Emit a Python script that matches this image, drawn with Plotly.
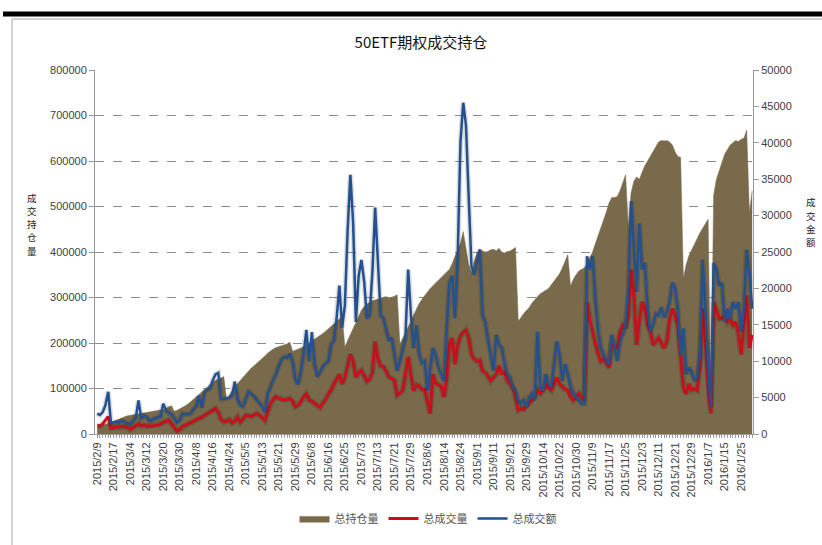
import pandas as pd
import plotly.graph_objects as go

# ---- trading-day categories (SSE calendar, 2015/2/9 - 2016/1/29) ----
holidays = ["2015-02-18", "2015-02-19", "2015-02-20", "2015-02-23", "2015-02-24",
            "2015-04-06", "2015-05-01", "2015-06-22", "2015-09-03", "2015-09-04",
            "2015-10-01", "2015-10-02", "2015-10-05", "2015-10-06", "2015-10-07",
            "2016-01-01"]
days = [d for d in pd.bdate_range("2015-02-09", "2016-01-29") if d.strftime("%Y-%m-%d") not in holidays]
dates = [f"{d.year}/{d.month}/{d.day}" for d in days]

# ---- series ----
open_interest = [
    15000, 17000, 19000, 21000, 23000, 26000, 28000, 30000, 33000, 36000,
    38000, 40000, 41000, 42000, 43000, 44000, 45000, 46000, 47000, 48000,
    49000, 50000, 51000, 52000, 54000, 56000, 60000, 62000, 50000, 52000,
    55000, 58000, 62000, 66000, 71000, 76000, 81000, 86000, 92000, 97000,
    103000, 109000, 114000, 118000, 121000, 124000, 126000, 76000, 86000, 96000,
    104000, 111000, 118000, 125000, 132000, 138000, 145000, 150000, 155000, 160000,
    166000, 172000, 178000, 183000, 187000, 190000, 192000, 194000, 196000, 198000,
    202000, 182000, 184000, 186000, 189000, 192000, 196000, 200000, 204000, 208000,
    212000, 216000, 221000, 226000, 231000, 236000, 241000, 246000, 252000, 258000,
    192000, 205000, 218000, 232000, 246000, 260000, 272000, 280000, 286000, 290000,
    293000, 295000, 297000, 298000, 300000, 302000, 298000, 300000, 303000, 306000,
    198000, 210000, 222000, 235000, 248000, 262000, 275000, 287000, 296000, 305000,
    312000, 320000, 326000, 331000, 336000, 342000, 350000, 356000, 362000, 375000,
    390000, 405000, 420000, 445000, 405000, 372000, 355000, 380000, 398000, 407000,
    402000, 400000, 401000, 405000, 406000, 403000, 408000, 400000, 398000, 401000,
    402000, 406000, 410000, 248000, 258000, 265000, 272000, 278000, 288000, 296000,
    302000, 308000, 312000, 316000, 320000, 328000, 336000, 345000, 352000, 365000,
    378000, 394000, 325000, 340000, 350000, 358000, 362000, 365000, 375000, 388000,
    400000, 418000, 435000, 452000, 468000, 488000, 508000, 520000, 520000, 522000,
    535000, 552000, 570000, 455000, 530000, 555000, 565000, 560000, 575000, 590000,
    600000, 610000, 620000, 632000, 642000, 645000, 644000, 645000, 642000, 635000,
    620000, 610000, 608000, 343000, 372000, 392000, 405000, 418000, 430000, 442000,
    452000, 462000, 472000, 60000, 525000, 560000, 580000, 600000, 615000, 625000,
    635000, 640000, 645000, 643000, 648000, 650000, 668000, 485000, 535000,
]

volume = [
    19000, 18000, 22000, 30000, 38000, 13000, 15000, 16000, 15000, 17000,
    16000, 15000, 10000, 14000, 19000, 22000, 18000, 20000, 17000, 18000,
    17000, 19000, 19000, 22000, 26000, 28000, 30000, 22000, 15000, 6000,
    10000, 17000, 19000, 22000, 24000, 27000, 30000, 33000, 37000, 41000,
    45000, 48000, 52000, 56000, 48000, 32000, 27000, 28000, 32000, 24000,
    28000, 37000, 26000, 33000, 41000, 40000, 38000, 42000, 45000, 41000,
    35000, 30000, 50000, 67000, 76000, 82000, 78000, 77000, 75000, 76000,
    78000, 72000, 60000, 63000, 70000, 82000, 88000, 75000, 72000, 67000,
    62000, 58000, 68000, 76000, 88000, 96000, 110000, 120000, 131000, 110000,
    125000, 150000, 175000, 160000, 125000, 135000, 140000, 128000, 116000, 120000,
    135000, 203000, 165000, 150000, 148000, 138000, 125000, 122000, 118000, 85000,
    90000, 95000, 130000, 170000, 130000, 95000, 108000, 105000, 98000, 98000,
    70000, 45000, 131000, 112000, 108000, 105000, 81000, 120000, 196000, 211000,
    153000, 196000, 215000, 224000, 228000, 211000, 175000, 165000, 160000, 162000,
    139000, 135000, 128000, 117000, 125000, 131000, 150000, 131000, 139000, 117000,
    110000, 103000, 80000, 52000, 56000, 54000, 62000, 67000, 74000, 85000,
    96000, 89000, 95000, 110000, 100000, 96000, 110000, 124000, 110000, 103000,
    98000, 96000, 81000, 74000, 80000, 89000, 80000, 74000, 290000, 250000,
    225000, 200000, 175000, 160000, 166000, 155000, 146000, 203000, 189000, 190000,
    225000, 239000, 232000, 260000, 361000, 304000, 196000, 250000, 290000, 275000,
    240000, 225000, 196000, 203000, 211000, 200000, 189000, 203000, 253000, 275000,
    260000, 240000, 175000, 103000, 88000, 110000, 96000, 100000, 96000, 150000,
    275000, 200000, 100000, 45000, 290000, 270000, 253000, 255000, 260000, 246000,
    253000, 239000, 246000, 220000, 175000, 246000, 304000, 189000, 218000,
]

turnover = [
    2800, 2600, 3000, 4000, 5800, 1500, 1600, 1700, 1600, 1800,
    1600, 1500, 1300, 1800, 2200, 4600, 2200, 2500, 2300, 1800,
    2000, 2200, 2300, 2400, 4150, 3300, 2900, 2700, 2200, 1600,
    1900, 2800, 2700, 2800, 2800, 3400, 3800, 5200, 3600, 5800,
    6100, 6300, 7400, 8200, 8400, 4800, 4800, 4900, 5000, 5300,
    7200, 4800, 4000, 3800, 4800, 5800, 5500, 5200, 4700, 4200,
    3800, 3000, 5600, 6500, 7500, 8200, 9400, 10200, 10600, 10500,
    11000, 10000, 7500, 6800, 8500, 11000, 14300, 10000, 14000, 9500,
    7900, 8500, 9300, 9700, 10000, 12300, 12800, 15900, 20400, 14600,
    17700, 28000, 35600, 29000, 15400, 21700, 23900, 21000, 15900, 16300,
    22200, 31100, 23600, 16300, 15900, 14500, 12800, 13200, 11000, 8700,
    10000, 11800, 13200, 22600, 16300, 11800, 14900, 11000, 9800, 10000,
    5980, 9000, 11800, 10800, 9100, 8200, 7300, 14500, 20800, 21700,
    15900, 24400, 40100, 45500, 42400, 32500, 23000, 21900, 23500, 25300,
    16300, 15400, 13000, 10900, 8700, 13600, 12300, 11800, 9600, 8200,
    7800, 6400, 6000, 4630, 4180, 4630, 3730, 5080, 5530, 4630,
    14060, 6430, 5980, 8220, 6880, 6430, 9500, 12710, 10920, 7320,
    9570, 8220, 6430, 5500, 5080, 4630, 4180, 4180, 24400, 22600,
    24400, 18500, 14060, 11820, 10920, 10000, 9570, 13620, 11820, 10020,
    12710, 13620, 15000, 20000, 32000, 26200, 19500, 28900, 22600, 23500,
    17200, 14060, 15000, 16500, 16310, 17400, 16000, 16760, 18110, 20800,
    20000, 17000, 10920, 14510, 8220, 9120, 8500, 7320, 7770, 10920,
    23950, 17210, 8670, 3730, 23500, 22600, 20350, 20800, 15410, 17210,
    15860, 18110, 17210, 18110, 14060, 17210, 25300, 22150, 17210,
]

tick_every = 6
left_ticks = list(range(0, 800001, 100000))
right_ticks = list(range(0, 50001, 5000))
left_title = "成交持仓量"
right_title = "成交金额"

tick_text = [d if i % tick_every == 0 else "" for i, d in enumerate(dates)]

BROWN = "#7a6a4c"
RED = "#c8101c"
BLUE = "#23508f"

fig = go.Figure()
fig.add_trace(go.Scatter(
    x=dates, y=open_interest, name="总持仓量", mode="lines",
    line=dict(color=BROWN, width=0.5), fill="tozeroy", fillcolor=BROWN,
))
# soft shadows
fig.add_trace(go.Scatter(x=dates, y=volume, mode="lines", showlegend=False, hoverinfo="skip",
                         line=dict(color="rgba(0,0,0,0.13)", width=6)))
fig.add_trace(go.Scatter(
    x=dates, y=volume, name="总成交量", mode="lines",
    line=dict(color=RED, width=3),
))
fig.add_trace(go.Scatter(x=dates, y=turnover, yaxis="y2", mode="lines", showlegend=False,
                         hoverinfo="skip", line=dict(color="rgba(0,0,0,0.13)", width=5.5)))
fig.add_trace(go.Scatter(
    x=dates, y=turnover, name="总成交额", mode="lines", yaxis="y2",
    line=dict(color=BLUE, width=2.5),
))

axis_font = dict(family="Liberation Sans, Arial, sans-serif", size=11, color="#404040")

# plot area: x 95..753 px, y 70..441 px
def px_x(px):
    return (px - 95) / 658.0

def px_y(py):
    return (441 - py) / 371.0

annotations = []
for k, ch in enumerate(left_title):
    annotations.append(dict(text=ch, xref="paper", yref="paper", x=px_x(32), y=px_y(200 + 13.5 * k),
                            xanchor="center", yanchor="middle", showarrow=False, borderpad=0,
                            font=dict(family="Noto Sans CJK SC", size=9.5, color="#222222")))
for k, ch in enumerate(right_title):
    annotations.append(dict(text=ch, xref="paper", yref="paper", x=px_x(811), y=px_y(205 + 13.5 * k),
                            xanchor="center", yanchor="middle", showarrow=False, borderpad=0,
                            font=dict(family="Noto Sans CJK SC", size=9.5, color="#222222")))

fig.update_layout(
    width=822, height=545,
    margin=dict(l=95, r=69, t=70, b=104),
    paper_bgcolor="white", plot_bgcolor="white",
    showlegend=True,
    legend=dict(orientation="h", x=px_x(428), xanchor="center", y=px_y(527), yanchor="middle",
                font=dict(family="Noto Sans CJK SC", size=11, color="#555555"),
                itemwidth=30, traceorder="normal"),
    title=dict(text="50ETF期权成交持仓", x=421 / 822, xanchor="center",
               y=1 - 43 / 545, yanchor="middle",
               font=dict(family="Noto Sans CJK SC", size=15, color="#111111")),
    xaxis=dict(
        type="category", range=[-0.8, 238.3],
        tickmode="array", tickvals=dates, ticktext=tick_text,
        tickangle=-90, tickfont=axis_font,
        ticks="outside", ticklen=3, tickcolor="#999999",
        showline=True, linecolor="#999999", linewidth=1,
        showgrid=False, zeroline=False,
    ),
    yaxis=dict(
        range=[0, 800000], tickmode="array", tickvals=left_ticks,
        ticktext=[str(v) for v in left_ticks], tickfont=axis_font,
        ticks="outside", ticklen=5, tickcolor="#999999",
        showline=True, linecolor="#999999", linewidth=1,
        showgrid=True, gridcolor="#8c8c8c", griddash="dash", gridwidth=1,
        zeroline=False,
    ),
    yaxis2=dict(
        range=[0, 50000], overlaying="y", side="right",
        tickmode="array", tickvals=right_ticks,
        ticktext=[str(v) for v in right_ticks], tickfont=axis_font,
        ticks="outside", ticklen=5, tickcolor="#999999",
        showline=True, linecolor="#999999", linewidth=1,
        showgrid=False, zeroline=False,
    ),
    shapes=[
        dict(type="rect", xref="paper", yref="paper",
             x0=px_x(12), x1=px_x(840), y0=px_y(560), y1=px_y(18),
             line=dict(color="#a6a6a6", width=1), fillcolor="rgba(0,0,0,0)", layer="below"),
        dict(type="line", xref="paper", yref="paper",
             x0=px_x(3), x1=px_x(830), y0=px_y(13), y1=px_y(13),
             line=dict(color="black", width=5)),
    ],
    annotations=annotations,
)

fig.write_html("out.html", config={"displayModeBar": False},
               post_script="document.body.style.margin='0px';document.body.style.padding='0px';")
